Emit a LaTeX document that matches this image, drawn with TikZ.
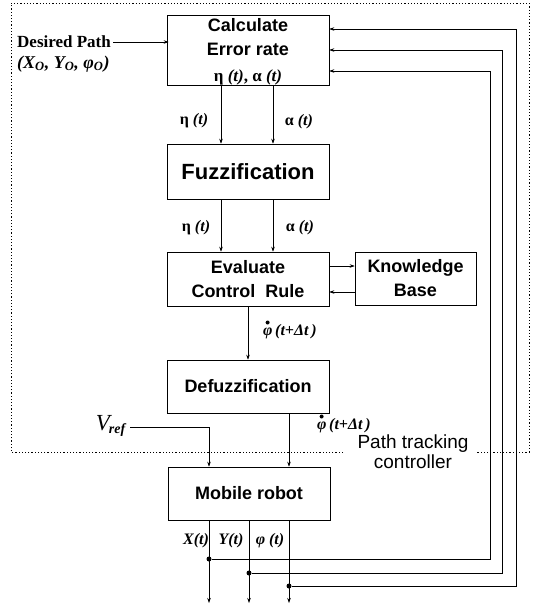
\documentclass[tikz,border=0pt]{standalone}
\usepackage{fontspec}
\setmainfont{Liberation Serif}
\newfontfamily\boxfont{Liberation Sans}
\usetikzlibrary{arrows.meta}

\begin{document}
\begin{tikzpicture}[x=1pt,y=-1pt,
  blk/.style={draw, line width=0.6pt, minimum width=162pt, inner sep=0pt,
    align=center, font=\boxfont\bfseries\fontsize{18}{24}\selectfont},
  arr/.style={-{Stealth[length=5pt,width=3.5pt]}, line width=0.6pt},
  lbl/.style={inner sep=0pt, font=\bfseries\fontsize{16}{18}\selectfont},
  jdot/.style={circle, fill, inner sep=0pt, minimum size=5pt},
  frame/.style={line width=0.6pt, dash pattern=on 1.2pt off 2pt}]
\useasboundingbox (0,0) rectangle (539,606);

% controller boundary, open where its caption sits
\draw[frame] (343,452) -- (11,452) -- (11,3) -- (529,3) -- (529,452) -- (477,452);
\node[align=center, inner sep=0pt, font=\boxfont\fontsize{19}{20}\selectfont] (ptc) at (413,452)
  {Path tracking\\controller};

% blocks
\node[blk, minimum height=69pt] (calc) at (248,50.5)
  {\fontsize{18}{22}\selectfont \rule{0pt}{16pt}Calculate\\Error rate\\[2pt]
   {\rmfamily\bfseries\fontsize{17}{20}\selectfont η \textit{(t)}, α \textit{(t)}}};
\node[blk, minimum height=55pt, font=\boxfont\bfseries\fontsize{22}{24}\selectfont] (fuzz) at (248,171.5) {Fuzzification};
\node[blk, minimum height=54pt] (eval) at (248,279) {Evaluate\\Control~~Rule};
\node[blk, minimum width=121pt, minimum height=53pt] (kb) at (415.5,278.5) {Knowledge\\Base};
\node[blk, minimum height=53pt] (defuzz) at (248,386.5) {Defuzzification};
\node[blk, minimum height=53pt] (robot) at (249,493.5) {Mobile robot};

% desired path input
\node[anchor=west, inner sep=0pt, font=\bfseries\fontsize{17}{18}\selectfont] (dp) at (17,42) {Desired Path};
\node[anchor=west, inner sep=0pt, font=\bfseries\itshape\fontsize{18}{18}\selectfont] (dpv) at (17,64)
  {(X\textsubscript{O}, Y\textsubscript{O}, φ\textsubscript{O})};
\draw[arr] ([xshift=2pt]dp.east) -- ([xshift=2pt]dp.east -| calc.west);

% error signals
\draw[arr] ([xshift=-27pt]calc.south) -- ([xshift=-27pt]fuzz.north);
\draw[arr] ([xshift=25pt]calc.south) -- ([xshift=25pt]fuzz.north);
\node[lbl] (e1) at (194,121) {η \textit{(t)}};
\node[lbl] (a1) at (299,122) {α \textit{(t)}};

\draw[arr] ([xshift=-27pt]fuzz.south) -- ([xshift=-27pt]eval.north);
\draw[arr] ([xshift=25pt]fuzz.south) -- ([xshift=25pt]eval.north);
\node[lbl] (e2) at (196,228) {η \textit{(t)}};
\node[lbl] (a2) at (300,228) {α \textit{(t)}};

% rule base exchange
\draw[arr] ([yshift=13pt]eval.east) -- ([yshift=13pt]eval.east -| kb.west);
\draw[arr] ([yshift=-13pt]eval.east -| kb.west) -- ([yshift=-13pt]eval.east);

% inference output: phi-dot (t + delta t)
\draw[arr] (eval.south) -- (defuzz.north);
\node[lbl, anchor=west] (w1) at (263,332) {\textit{φ}\,\textit{(t+Δt\,)}};
\fill (w1.west) ++(4.6,-9.5) circle (2pt);

\draw[arr] ([xshift=41pt]defuzz.south) -- ([xshift=41pt]defuzz.south |- robot.north);
\node[lbl, anchor=west] (w2) at (317,426) {\textit{φ}\,\textit{(t+Δt\,)}};
\fill (w2.west) ++(4.6,-9.5) circle (2pt);

% reference velocity
\node[anchor=east, inner sep=0pt, font=\itshape\fontsize{23}{23}\selectfont] (vref) at (126,426)
  {V\textsubscript{\kern-1pt\bfseries\fontsize{14}{14}\selectfont ref}};
\coordinate (vin) at (130,427);
\draw[arr] (vin) -| ([xshift=-40pt]robot.north);

% robot outputs
\coordinate (endx) at (209,603);
\coordinate (endy) at (249,603);
\coordinate (endp) at (289,603);
\draw[arr] (robot.south -| endx) -- (endx);
\draw[arr] (robot.south -| endy) -- (endy);
\draw[arr] (robot.south -| endp) -- (endp);
\node[lbl] (lx) at (196,541) {\textit{X(t)}};
\node[lbl] (ly) at (231,541) {\textit{Y(t)}};
\node[lbl] (lp) at (270,541) {\textit{φ (t)}};

% feedback to the error computation
\node[jdot] (jx) at (209,559) {};
\node[jdot] (jy) at (249,573) {};
\node[jdot] (jp) at (289,586) {};
\coordinate (fx) at (490,71);
\coordinate (fy) at (502,50);
\coordinate (fp) at (516,29);
\draw[arr] (jx) -| (fx) -- (fx -| calc.east);
\draw[arr] (jy) -| (fy) -- (fy -| calc.east);
\draw[arr] (jp) -| (fp) -- (fp -| calc.east);
\end{tikzpicture}
\end{document}
